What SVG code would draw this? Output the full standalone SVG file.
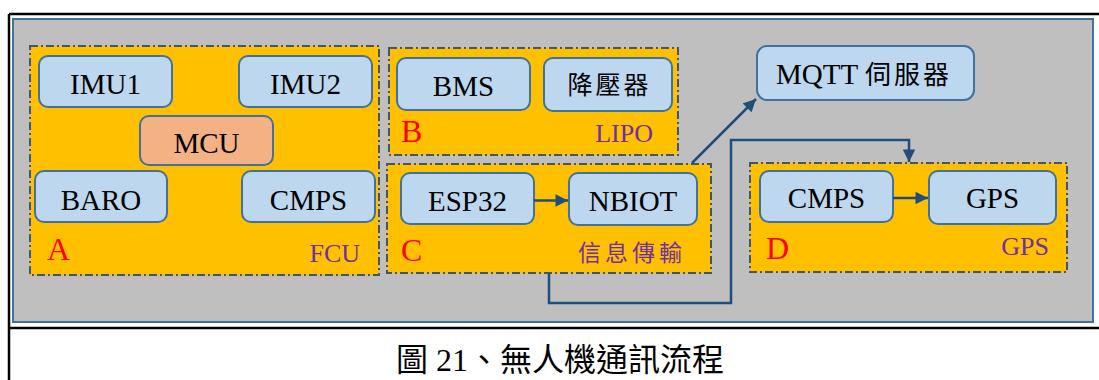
<svg xmlns="http://www.w3.org/2000/svg" width="1099" height="380" viewBox="0 0 1099 380">
<style>
.grp{fill:#FFC000;stroke:#44546A;stroke-width:2;stroke-dasharray:8 3 2 3}
.box{fill:#BDD7EE;stroke:#41719C;stroke-width:2}
.mcu{fill:#F4B183;stroke:#41719C;stroke-width:2}
.t{font-family:"Liberation Serif","Noto Sans CJK TC",serif;font-size:29px;fill:#000;text-anchor:middle}
.cjk{font-family:"Liberation Serif","Noto Sans CJK TC",serif;font-size:25px;fill:#000;text-anchor:middle;letter-spacing:3px}
.lt{font-family:"Liberation Serif",serif;font-size:32px;fill:#FF0000}
.pl{font-family:"Liberation Serif","Noto Sans CJK TC",serif;font-size:26px;fill:#7030A0;text-anchor:end}
.conn{fill:none;stroke:#1F4E79;stroke-width:2.5}
</style>
<defs>
<marker id="ah" viewBox="0 0 10 10" refX="10" refY="5" markerWidth="5.5" markerHeight="5" orient="auto" markerUnits="strokeWidth">
<path d="M0,0 L10,5 L0,10 z" fill="#1F4E79"/>
</marker>
</defs>
<rect x="0" y="0" width="1099" height="380" fill="#fff"/>
<g id="frame">
<line x1="9" y1="14" x2="1099" y2="14" stroke="#000" stroke-width="2.5"/>
<line x1="9" y1="14" x2="9" y2="380" stroke="#000" stroke-width="2.5"/>
<line x1="9" y1="328" x2="1099" y2="328" stroke="#000" stroke-width="2.5"/>
<rect x="13" y="19" width="1080" height="303" fill="#BFBFBF" stroke="#41719C" stroke-width="2"/>
</g>
<g id="groupA">
<rect class="grp" x="30" y="46" width="349" height="229"/>
<text class="lt" x="47" y="260">A</text>
<text class="pl" x="360" y="262">FCU</text>
</g>
<g id="imu1"><rect class="box" x="39" y="56" width="133" height="51" rx="9"/><text class="t" x="105.5" y="94">IMU1</text></g>
<g id="imu2"><rect class="box" x="239" y="56" width="133" height="51" rx="9"/><text class="t" x="305.5" y="94">IMU2</text></g>
<g id="mcu"><rect class="mcu" x="140" y="116" width="133" height="49" rx="9"/><text class="t" x="206.5" y="153">MCU</text></g>
<g id="baro"><rect class="box" x="35" y="171" width="132" height="51" rx="9"/><text class="t" x="101" y="210">BARO</text></g>
<g id="cmpsA"><rect class="box" x="242" y="171" width="133" height="51" rx="9"/><text class="t" x="308.5" y="210">CMPS</text></g>

<g id="groupB">
<rect class="grp" x="389" y="48" width="289" height="107"/>
<text class="lt" x="401" y="142">B</text>
<text class="pl" x="653" y="142">LIPO</text>
</g>
<g id="bms"><rect class="box" x="397" y="58" width="133" height="52" rx="9"/><text class="t" x="463.5" y="96">BMS</text></g>
<g id="buck"><rect class="box" x="544" y="58" width="128" height="53" rx="9"/><text class="cjk" x="609.5" y="94">降壓器</text></g>

<g id="groupC">
<rect class="grp" x="387" y="164" width="324" height="109"/>
<text class="lt" x="401" y="261">C</text>
<text class="pl" x="686" y="261" style="font-size:23px;letter-spacing:4px">信息傳輸</text>
</g>
<g id="esp32"><rect class="box" x="401" y="173" width="133" height="51" rx="9"/><text class="t" x="467.5" y="211">ESP32</text></g>
<g id="nbiot"><rect class="box" x="569" y="173" width="128" height="52" rx="9"/><text class="t" x="633" y="211">NBIOT</text></g>

<g id="mqtt"><rect class="box" x="757" y="46" width="217" height="54" rx="10"/><text class="t" x="864" y="84">MQTT <tspan style="font-size:26px;letter-spacing:3px">伺服器</tspan></text></g>

<g id="groupD">
<rect class="grp" x="750" y="163" width="317" height="109"/>
<text class="lt" x="766" y="259">D</text>
<text class="pl" x="1049" y="255">GPS</text>
</g>
<g id="cmpsD"><rect class="box" x="760" y="171" width="133" height="51" rx="9"/><text class="t" x="826.5" y="208">CMPS</text></g>
<g id="gps"><rect class="box" x="929" y="171" width="127" height="53" rx="9"/><text class="t" x="992.5" y="208">GPS</text></g>

<g id="connectors">
<line class="conn" x1="534" y1="200.5" x2="568" y2="200.5" marker-end="url(#ah)"/>
<line class="conn" x1="893" y1="198" x2="928" y2="198" marker-end="url(#ah)"/>
<line class="conn" x1="692" y1="163" x2="756" y2="99" marker-end="url(#ah)"/>
<polyline class="conn" points="549,273 549,303 731,303 731,140 909,140 909,162" marker-end="url(#ah)"/>
</g>

<g id="caption">
<text x="560" y="371" style="font-family:'Liberation Serif','Noto Sans CJK TC',serif;font-size:32px;fill:#000;text-anchor:middle">圖 21、無人機通訊流程</text>
</g>
</svg>
